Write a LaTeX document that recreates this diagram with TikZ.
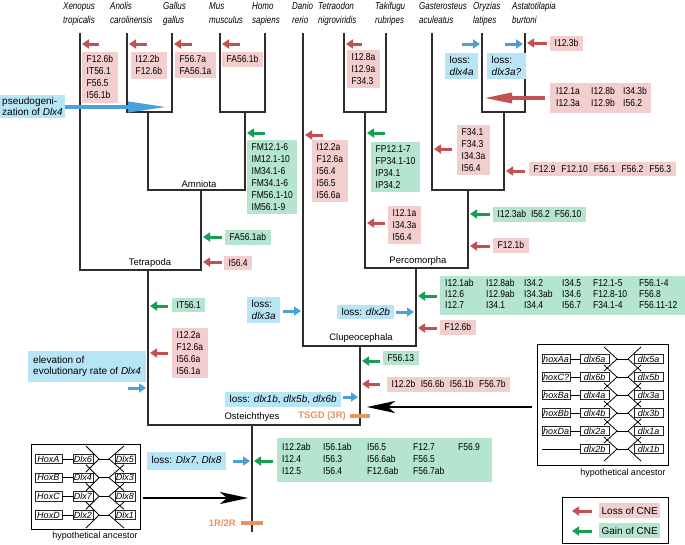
\documentclass[tikz,border=0pt]{standalone}
\usepackage{fontspec}
\setmainfont{Liberation Sans}
\newfontfamily\cnef[FakeStretch=0.85]{Liberation Sans}
\newfontfamily\spf[FakeStretch=0.8]{Liberation Sans}
\usetikzlibrary{arrows.meta}
\definecolor{lossA}{RGB}{196,80,82}
\definecolor{lossB}{RGB}{242,206,206}
\definecolor{gainA}{RGB}{22,158,84}
\definecolor{gainB}{RGB}{181,229,206}
\definecolor{blueA}{RGB}{74,160,218}
\definecolor{blueB}{RGB}{183,229,246}
\definecolor{oran}{RGB}{230,148,98}
\definecolor{treec}{RGB}{45,45,45}
\begin{document}
\begin{tikzpicture}[x=1pt,y=-1pt,
 treeline/.style={draw=treec,line width=1.3pt,line join=miter},
 cne/.style={anchor=north west,inner xsep=4.5pt,inner ysep=3.5pt,align=left,font=\cnef\fontsize{10}{12}\selectfont},
 lossbox/.style={cne,fill=lossB},
 gainbox/.style={cne,fill=gainB},
 bluebox/.style={anchor=north west,fill=blueB,inner xsep=4.5pt,inner ysep=3pt,align=left,font=\fontsize{10}{12}\selectfont},
 sarr/.style={line width=3pt,-{Triangle[length=7pt,width=9pt]}},
 lossarr/.style={sarr,draw=lossA},
 gainarr/.style={sarr,draw=gainA},
 bluearr/.style={sarr,draw=blueA},
 species/.style={anchor=north west,inner sep=0pt,align=left,font=\spf\itshape\fontsize{10}{14}\selectfont},
 clade/.style={inner sep=0pt,font=\fontsize{9.5}{11}\selectfont},
 hx/.style={draw=black!85,line width=0.9pt,fill=white,inner sep=0.5pt,minimum height=9.5pt,font=\itshape\fontsize{9}{9}\selectfont},
 chev/.style={draw=black,line width=0.8pt},
 bigarr/.style={draw=black,line width=2pt,-{Stealth[length=28pt,width=12pt,inset=7pt]}},
 orbar/.style={draw=oran,line width=3.2pt},
 orlab/.style={text=oran,font=\bfseries\fontsize{9.5}{11}\selectfont,inner sep=0pt}
]
\useasboundingbox (0,0) rectangle (685,544);
\fill[white] (0,0) rectangle (685,544);

% species names
\node[species] (s1) at (63,2.5) {Xenopus\\tropicalis};
\node[species] (s2) at (110,2.5) {Anolis\\carolinensis};
\node[species] (s3) at (163,2.5) {Gallus\\gallus};
\node[species] (s4) at (209,2.5) {Mus\\musculus};
\node[species] (s5) at (252,2.5) {Homo\\sapiens};
\node[species] (s6) at (292,2.5) {Danio\\rerio};
\node[species] (s7) at (318,2.5) {Tetraodon\\nigroviridis};
\node[species] (s8) at (375,2.5) {Takifugu\\rubripes};
\node[species] (s9) at (419,2.5) {Gasterosteus\\aculeatus};
\node[species] (s10) at (473,2.5) {Oryzias\\latipes};
\node[species] (s11) at (512,2.5) {Astatotilapia\\burtoni};

% tree
\draw[treeline] (80,33) -- (80,270) -- (201,270) -- (201,190);
\draw[treeline] (127,33) -- (127,112) -- (172,112) -- (172,33);
\draw[treeline] (220,33) -- (220,112) -- (265,112) -- (265,33);
\draw[treeline] (148,112) -- (148,190) -- (245,190) -- (245,112);
\draw[treeline] (148,270) -- (148,425) -- (360,425) -- (360,346);
\draw[treeline] (252,425) -- (252,532);
\draw[treeline] (303,33) -- (303,346) -- (416,346) -- (416,268);
\draw[treeline] (344,33) -- (344,112) -- (386,112) -- (386,33);
\draw[treeline] (365,112) -- (365,268) -- (468,268) -- (468,190);
\draw[treeline] (432,33) -- (432,190) -- (504,190) -- (504,112);
\draw[treeline] (482,33) -- (482,112) -- (525,112) -- (525,33);

% clade labels
\node[clade] (c1) at (199,184) {Amniota};
\node[clade] (c2) at (150,263) {Tetrapoda};
\node[clade] (c3) at (418,261) {Percomorpha};
\node[clade] (c4) at (361,338) {Clupeocephala};
\node[clade] (c5) at (252,417) {Osteichthyes};

% duplication marks
\draw[orbar] (241,523) -- (263,523);
\node[orlab,anchor=east] (r12) at (236,523) {1R/2R};
\draw[orbar] (350,416) -- (370,416);
\node[orlab,anchor=east] (tsgd) at (346,416) {TSGD (3R)};

% CNE boxes
\node[lossbox] (b1) at (82,52) {F12.6b\\IT56.1\\F56.5\\I56.1b};
\node[lossbox] (b2) at (131,52) {I12.2b\\F12.6b};
\node[lossbox] (b3) at (175,52) {F56.7a\\FA56.1a};
\node[lossbox] (b4) at (222,52) {FA56.1b};
\node[lossbox] (b5) at (347,50) {I12.8a\\I12.9a\\F34.3};
\node[lossbox] (b6) at (550,36) {I12.3b};
\node[bluebox] (b7) at (445,53) {loss:\\\textit{dlx4a}};
\node[bluebox] (b8) at (487,53) {loss:\\\textit{dlx3a?}};
\node[lossbox,text width=89pt,inner xsep=6pt,inner ysep=3pt] (b9) at (550,83) {\tabcolsep=0pt\begin{tabular}{@{}p{35pt}p{32pt}l@{}}I12.1a&I12.8b&I34.3b\\I12.3a&I12.9b&I56.2\end{tabular}};
\node[bluebox,inner xsep=2pt,inner ysep=2pt,font=\fontsize{10}{11}\selectfont] (b10) at (0,95) {pseudogeni-\\zation of \textit{Dlx4}};
\node[gainbox] (b11) at (247,140) {FM12.1-6\\IM12.1-10\\IM34.1-6\\FM34.1-6\\FM56.1-10\\IM56.1-9};
\node[lossbox] (b12) at (312,140) {I12.2a\\F12.6a\\I56.4\\I56.5\\I56.6a};
\node[gainbox] (b13) at (371,142) {FP12.1-7\\FP34.1-10\\IP34.1\\IP34.2};
\node[lossbox] (b14) at (388,206) {I12.1a\\I34.3a\\I56.4};
\node[lossbox] (b15) at (457,125) {F34.1\\F34.3\\I34.3a\\I56.4};
\node[lossbox] (b16) at (529,162) {F12.9\hspace{6pt}F12.10\hspace{6pt}F56.1\hspace{6pt}F56.2\hspace{6pt}F56.3};
\node[gainbox] (b17) at (493,207) {I12.3ab\hspace{5pt}I56.2\hspace{5pt}F56.10};
\node[lossbox] (b18) at (493,238) {F12.1b};
\node[gainbox] (b19) at (225,230) {FA56.1ab};
\node[lossbox] (b20) at (224,256) {I56.4};
\node[gainbox] (b21) at (172,298) {IT56.1};
\node[lossbox] (b22) at (172,328) {I12.2a\\F12.6a\\I56.6a\\I56.1a};
\node[bluebox,inner xsep=5pt,inner ysep=5pt,font=\fontsize{10}{11}\selectfont] (b23) at (28,351) {elevation of\\evolutionary rate of \textit{Dlx4}};
\node[bluebox] (b24) at (247,297) {loss:\\\textit{dlx3a}};
\node[bluebox] (b25) at (337,305) {loss: \textit{dlx2b}};
\node[gainbox,text width=235pt,inner xsep=5pt,inner ysep=3pt,font=\cnef\fontsize{10}{11}\selectfont] (b26) at (440,276) {\tabcolsep=0pt\begin{tabular}{@{}p{41pt}p{38pt}p{38pt}p{31pt}p{46pt}l@{}}
I12.1ab&I12.8ab&I34.2&I34.5&F12.1-5&F56.1-4\\
I12.6&I12.9ab&I34.3ab&I34.6&F12.8-10&F56.8\\
I12.7&I34.1&I34.4&I56.7&F34.1-4&F56.11-12\end{tabular}};
\node[lossbox] (b27) at (440,320) {F12.6b};
\node[gainbox] (b28) at (383,351) {F56.13};
\node[lossbox] (b29) at (387,377) {I12.2b\hspace{5.5pt}I56.6b\hspace{5.5pt}I56.1b\hspace{5.5pt}F56.7b};
\node[bluebox] (b30) at (225,392) {loss: \textit{dlx1b}, \textit{dlx5b}, \textit{dlx6b}};
\node[bluebox,inner ysep=4.5pt] (b31) at (147,452) {loss: \textit{Dlx7}, \textit{Dlx8}};
\node[gainbox,text width=205pt,inner xsep=5pt,inner ysep=4pt] (b32) at (277,438) {\tabcolsep=0pt\begin{tabular}{@{}p{41pt}p{44pt}p{46pt}p{45pt}l@{}}
I12.2ab&I56.1ab&I56.5&F12.7&F56.9\\
I12.4&I56.3&I56.6ab&F56.5&\\
I12.5&I56.4&F12.6ab&F56.7ab&\end{tabular}};

% loss arrows
\draw[lossarr] (99,44) -- (82,44);
\draw[lossarr] (147,44) -- (129,44);
\draw[lossarr] (192,44) -- (174,44);
\draw[lossarr] (240,44) -- (222,44);
\draw[lossarr] (362,44) -- (346,44);
\draw[lossarr] (547,43) -- (527,43);
\draw[draw=lossA,line width=3.5pt,-{Triangle[length=28pt,width=10pt]}] (545,98) -- (484,98);
\draw[lossarr] (323,135) -- (305,135);
\draw[lossarr] (385,223) -- (367,223);
\draw[lossarr] (452,149) -- (434,149);
\draw[lossarr] (525,171) -- (506,171);
\draw[lossarr] (490,246) -- (470,246);
\draw[lossarr] (222,262) -- (203,262);
\draw[lossarr] (168,353) -- (150,353);
\draw[lossarr] (437,328) -- (418,328);
\draw[lossarr] (380,384) -- (362,384);
% gain arrows
\draw[gainarr] (265,133) -- (247,133);
\draw[gainarr] (385,133) -- (367,133);
\draw[gainarr] (490,214) -- (470,214);
\draw[gainarr] (222,237) -- (203,237);
\draw[gainarr] (168,306) -- (150,306);
\draw[gainarr] (437,296) -- (418,296);
\draw[gainarr] (380,361) -- (362,361);
\draw[gainarr] (273,461) -- (254,461);
% blue arrows
\draw[bluearr] (462,44) -- (480,44);
\draw[bluearr] (505,44) -- (523,44);
\draw[bluearr] (283,311) -- (301,311);
\draw[bluearr] (396,312) -- (414,312);
\draw[bluearr] (128,388) -- (146,388);
\draw[bluearr] (343,397) -- (358,397);
\draw[bluearr] (233,461) -- (250,461);
\draw[draw=blueA,line width=4pt,-{Triangle[length=40pt,width=10pt]}] (65,107) -- (168,107);

% left hypothetical ancestor
\draw[line width=0.9pt] (31,444) rectangle (140,529);
\node[font=\fontsize{9}{10}\selectfont,inner sep=0pt] (anc1) at (95,536) {hypothetical ancestor};
\foreach \y/\h/\a/\b [count=\i] in {459/HoxA/Dlx6/Dlx5, 477.7/HoxB/Dlx4/Dlx3, 496.3/HoxC/Dlx7/Dlx8, 515/HoxD/Dlx2/Dlx1} {
 \node[hx,minimum width=27pt] (lh\i) at (48.5,\y) {\h};
 \node[hx,minimum width=20pt] (ld\i) at (83,\y) {\a};
 \node[hx,minimum width=20pt] (le\i) at (125,\y) {\b};
 \draw[chev] (lh\i.east) -- (ld\i.west);
 \draw[chev] (86,\y-13) -- (99,\y) -- (86,\y+13);
 \draw[chev] (99,\y) -- (109,\y);
 \draw[chev] (124,\y-13) -- (109,\y) -- (124,\y+13);
}
\coordinate (lstart) at (143,498);
\coordinate (lend) at (248,498);
\draw[bigarr] (lstart) -- (lend);

% right hypothetical ancestor
\draw[line width=0.9pt] (537,344) rectangle (668,465);
\node[font=\fontsize{9}{10}\selectfont,inner sep=0pt] (anc2) at (623,473) {hypothetical ancestor};
\foreach \y/\h/\a/\b [count=\i] in {359/hoxAa/dlx6a/dlx5a, 377/hoxC?/dlx6b/dlx5b, 395/hoxBa/dlx4a/dlx3a, 413/hoxBb/dlx4b/dlx3b, 431/hoxDa/dlx2a/dlx1a} {
 \node[hx,minimum width=28pt] (rh\i) at (556,\y) {\h};
 \draw[chev] (rh\i.east) -- (580,\y);
}
\foreach \y/\a/\b [count=\i] in {359/dlx6a/dlx5a, 377/dlx6b/dlx5b, 395/dlx4a/dlx3a, 413/dlx4b/dlx3b, 431/dlx2a/dlx1a, 449/dlx2b/dlx1b} {
 \node[hx,minimum width=29pt] (ra\i) at (594.5,\y) {\a};
 \node[hx,minimum width=29pt] (rb\i) at (648.5,\y) {\b};
 \draw[chev] (604,\y-12) -- (617,\y) -- (604,\y+12);
 \draw[chev] (617,\y) -- (628,\y);
 \draw[chev] (641,\y-12) -- (628,\y) -- (641,\y+12);
}
\coordinate (rh6) at (542,449);
\draw[chev] (rh6) -- (ra6.west);
\coordinate (rstart) at (532,407);
\coordinate (rend) at (367,407);
\draw[bigarr] (rstart) -- (rend);

% legend
\draw[line width=0.8pt] (562,497) rectangle (668,543);
\node[fill=lossB,font=\fontsize{10}{12}\selectfont,minimum width=61pt,minimum height=15pt,anchor=north west,inner sep=0pt] (lg1) at (599,503) {Loss of CNE};
\node[fill=gainB,font=\fontsize{10}{12}\selectfont,minimum width=61pt,minimum height=15pt,anchor=north west,inner sep=0pt] (lg2) at (599,523) {Gain of CNE};
\draw[lossarr] (592,511) -- (572,511);
\draw[gainarr] (592,531) -- (572,531);
\end{tikzpicture}
\end{document}
